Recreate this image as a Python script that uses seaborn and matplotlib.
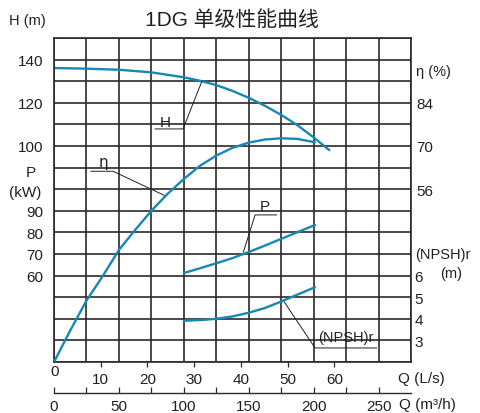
import numpy as np
import matplotlib
matplotlib.use("Agg")
import matplotlib.pyplot as plt
import seaborn as sns

# flow in m3/h
q_head = [0, 25, 50, 75, 100, 112.5, 125, 137.5, 150, 162.5, 175, 187.5, 200, 212]
head = [136.1, 135.8, 135.3, 134.1, 131.8, 130.2, 128.2, 125.5, 122.3, 118.6, 114.4, 109.6, 104.0, 98.1]

q_eta = [0, 12.5, 25, 37.5, 50, 62.5, 75, 87.5, 100, 112.5, 125, 137.5, 150, 162.5, 175, 187.5, 201]
eta = [0, 10.2, 19.9, 27.8, 36.3, 42.8, 49.0, 54.5, 59.3, 63.6, 66.9, 69.4, 71.1, 72.1, 72.5, 72.3, 71.2]

q_power = [100, 112.5, 125, 137.5, 150, 162.5, 175, 187.5, 201]
power = [61.2, 63.4, 65.7, 68.1, 70.9, 73.9, 77.0, 80.1, 83.4]

q_npsh = [100, 112.5, 125, 137.5, 150, 162.5, 175, 187.5, 201]
npsh = [3.91, 3.94, 4.00, 4.11, 4.28, 4.50, 4.80, 5.12, 5.46]

h_ticks = [100, 120, 140]
p_ticks = [60, 70, 80, 90]
eta_ticks = [56, 70, 84]
npsh_ticks = [3, 4, 5, 6]
ls_ticks = [10, 20, 30, 40, 50, 60]
m3h_ticks = [0, 50, 100, 150, 200, 250]

BLUE = "#1787b6"
GRID = "#2e2829"
TXT = "#231f20"

sns.set_style("white")
plt.rcParams["font.family"] = ["Liberation Sans", "Noto Sans CJK SC", "DejaVu Sans"]
plt.rcParams["text.color"] = TXT
plt.rcParams["xtick.color"] = TXT
plt.rcParams["ytick.color"] = TXT

W, H = 481, 414
fig = plt.figure(figsize=(W / 100, H / 100), dpi=100)
ax = fig.add_axes([54 / W, 1 - 363 / H, 357 / W, 324 / H])


def fpos(x, y):
    return x / W, 1 - y / H


# curves, each on its own scale
ax_p = ax.twinx()
ax_eta = ax.twinx()
ax_npsh = ax.twinx()

sns.lineplot(x=q_head, y=head, ax=ax, color=BLUE, lw=1.7)
sns.lineplot(x=q_eta, y=eta, ax=ax_eta, color=BLUE, lw=1.7)
sns.lineplot(x=q_power, y=power, ax=ax_p, color=BLUE, lw=1.7)
sns.lineplot(x=q_npsh, y=npsh, ax=ax_npsh, color=BLUE, lw=1.7)

ax.set_xlim(0, 275)
ax.set_ylim(0, 150)
ax_p.set_ylim(20, 170)
ax_eta.set_ylim(0, 105)
ax_npsh.set_ylim(2, 17)

# grid
ax.set_xticks(np.arange(0, 276, 25))
ax.set_xticklabels([])
yt = np.arange(0, 151, 10)
ax.set_yticks(yt)
ax.set_yticklabels([str(v) if v in h_ticks else "" for v in yt])
ax.tick_params(length=0, labelsize=11, pad=8)
ax.grid(True, color=GRID, lw=1.2)
for s in ax.spines.values():
    s.set_color(GRID)
    s.set_linewidth(1.2)
ax.set_xlabel("")
ax.set_ylabel("")

for a in (ax_p, ax_eta, ax_npsh):
    for s in a.spines.values():
        s.set_visible(False)
    a.set_xlabel("")
    a.set_ylabel("")

ax_p.yaxis.tick_left()
ax_p.set_yticks(p_ticks)
ax_p.tick_params(length=0, labelsize=11, pad=8)

ax_eta.set_yticks(eta_ticks)
ax_eta.tick_params(length=0, labelsize=11, pad=4)

ax_npsh.set_yticks(npsh_ticks)
ax_npsh.tick_params(length=0, labelsize=11, pad=2.3)

# bottom axes: L/s and m3/h
sec_ls = ax.secondary_xaxis("bottom", functions=(lambda q: q / 3.6, lambda l: l * 3.6))
sec_ls.set_xticks(ls_ticks)
sec_ls.tick_params(direction="out", length=3.6, width=0.9, color=GRID, pad=3.5, labelsize=11)
sec_ls.spines["bottom"].set_visible(False)

sec_m3 = ax.secondary_xaxis(-31 / 324)
sec_m3.set_xticks(m3h_ticks)
sec_m3.set_xticks(np.arange(25, 251, 50), minor=True)
sec_m3.tick_params(which="both", direction="in", length=4.3, width=0.9, color=GRID, pad=4, labelsize=11)
sec_m3.spines["bottom"].set_color(GRID)
sec_m3.spines["bottom"].set_linewidth(1.0)

# leader lines and curve names (H-axis units)
lead = dict(color=TXT, lw=0.7, clip_on=False)
ax.plot([77.8, 99.4, 114.0], [107.9, 107.9, 130.1], **lead)
ax.text(85.5, 111.3, "H", fontsize=11, ha="center", va="center")
ax.plot([28.3, 45.5, 85.5], [88.3, 88.3, 77.0], **lead)
ax.text(37.8, 92.6, "η", fontsize=11, ha="center", va="center", family="DejaVu Sans")
ax.plot([171.6, 154.9, 145.8], [68.1, 68.1, 50.8], **lead)
ax.text(162.6, 72.2, "P", fontsize=11, ha="center", va="center")
ax.plot([248.6, 201.1, 176.7], [6.5, 6.5, 28.4], **lead)
ax.text(225.0, 11.4, "(NPSH)r", fontsize=10.5, ha="center", va="center")

# axis titles
fig.text(*fpos(231.5, 20), "1DG 单级性能曲线", fontsize=15, ha="center", va="center")
fig.text(*fpos(27.5, 21), "H (m)", fontsize=10.5, ha="center", va="center")
fig.text(*fpos(30.5, 173), "P", fontsize=11, ha="center", va="center")
fig.text(*fpos(25.5, 193), "(kW)", fontsize=11, ha="center", va="center")
fig.text(*fpos(416, 72), "η (%)", fontsize=10.5, ha="left", va="center")
fig.text(*fpos(415, 255), "(NPSH)r", fontsize=10.5, ha="left", va="center")
fig.text(*fpos(440, 274), "(m)", fontsize=10.5, ha="left", va="center")
fig.text(*fpos(398, 379), "Q (L/s)", fontsize=11, ha="left", va="center")
fig.text(*fpos(399, 405), "Q (m³/h)", fontsize=11, ha="left", va="center")
fig.text(*fpos(55, 372), "0", fontsize=11, ha="center", va="center")

fig.savefig("out.png", dpi=100)
